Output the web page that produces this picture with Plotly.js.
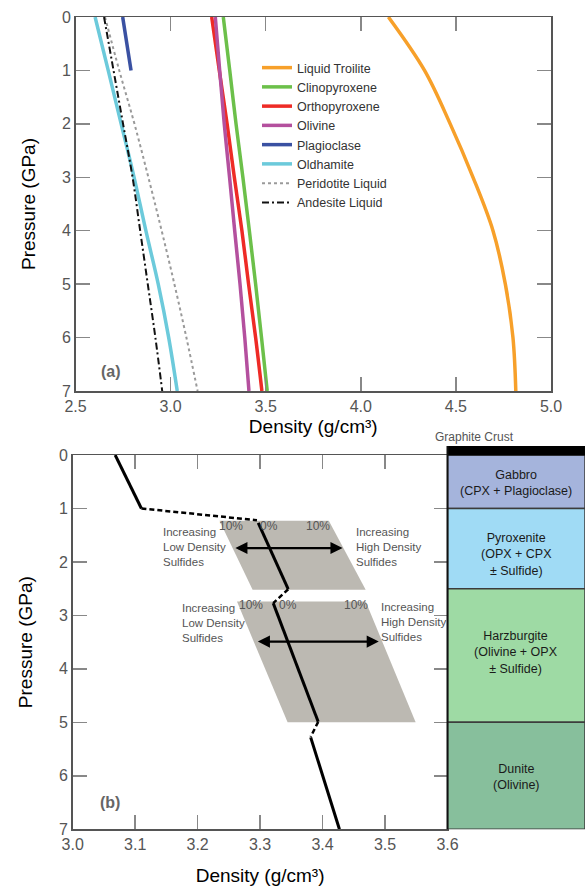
<!DOCTYPE html>
<html>
<head>
<meta charset="utf-8">
<script src="https://cdn.plot.ly/plotly-3.0.1.min.js"></script>
<style>html,body{margin:0;padding:0;background:#fff;}#chart{width:585px;height:888px;}</style>
</head>
<body>
<div id="chart"></div>
<script>
// ---------- Panel (a) data: density (g/cm3) at pressure (GPa) ----------
const pressureA = [0, 1, 2, 3, 4, 5, 6, 7];
const liquidTroilite = [4.145, 4.335, 4.47, 4.59, 4.695, 4.76, 4.80, 4.815];
const clinopyroxene = [3.277, 3.311, 3.344, 3.38, 3.414, 3.447, 3.478, 3.508];
const orthopyroxene = [3.216, 3.256, 3.297, 3.335, 3.375, 3.41, 3.447, 3.48];
const olivine = [3.235, 3.258, 3.282, 3.31, 3.337, 3.365, 3.39, 3.412];
const plagioclasePressure = [0, 1];
const plagioclase = [2.748, 2.792];
const oldhamite = [2.603, 2.672, 2.74, 2.808, 2.87, 2.935, 2.99, 3.035];
const peridotiteLiquid = [2.655, 2.73, 2.81, 2.883, 2.953, 3.02, 3.083, 3.142];
const andesiteLiquid = [2.65, 2.70, 2.75, 2.80, 2.84, 2.88, 2.92, 2.956];

// ---------- Panel (b) data ----------
// bulk density profile (solid parts, null = break)
const profileSolidX = [3.068, 3.11, null, 3.297, 3.345, null, 3.321, 3.393, null, 3.381, 3.427];
const profileSolidY = [0, 1.0, null, 1.27, 2.51, null, 2.77, 4.99, null, 5.28, 7];
// dashed connections
const profileDashX = [3.11, 3.295, null, 3.345, 3.321, null, 3.393, 3.381];
const profileDashY = [1.0, 1.22, null, 2.51, 2.77, null, 4.99, 5.27];
// sulfide envelopes (0-10 % sulfide)
const envUpperX = [3.235, 3.41, 3.469, 3.288, 3.235];
const envUpperY = [1.23, 1.23, 2.52, 2.52, 1.23];
const envLowerX = [3.263, 3.469, 3.549, 3.344, 3.263];
const envLowerY = [2.74, 2.74, 5.0, 5.0, 2.74];
// double arrows
const arrowUpper = {x0: 3.258, x1: 3.432, y: 1.74};
const arrowLower = {x0: 3.294, x1: 3.49, y: 3.49};
// percentage labels
const pctText = ["10%", "0%", "10%", "10%", "0%", "10%"];
const pctX = [3.254, 3.314, 3.392, 3.286, 3.344, 3.453];
const pctY = [1.33, 1.33, 1.33, 2.80, 2.80, 2.80];
// side labels
const sideText = ["Increasing<br>Low Density<br>Sulfides", "Increasing<br>High Density<br>Sulfides",
                  "Increasing<br>Low Density<br>Sulfides", "Increasing<br>High Density<br>Sulfides"];
const sideX = [3.142, 3.45, 3.172, 3.49];
const sideY = [1.72, 1.72, 3.14, 3.12];

// crust column layers
const layerNames = ["Gabbro<br>(CPX + Plagioclase)", "Pyroxenite<br>(OPX + CPX<br>± Sulfide)",
                    "Harzburgite<br>(Olivine + OPX<br>± Sulfide)", "Dunite<br>(Olivine)"];
const layerTop = [0, 1.0, 2.5, 5.0];
const layerBottom = [1.0, 2.5, 5.0, 7.0];
const layerLabelY = [0.52, 1.87, 3.69, 6.03];
const layerColors = ["#a5b4dc", "#a0dbf5", "#9edaa4", "#87bf9c"];

const W = 585, H = 888;
const px = v => v / W, py = v => 1 - v / H;
const FONT = 'Liberation Sans, Arial, sans-serif';

const lineA = (name, x, y, color, width, dash) => ({
  type: 'scatter', mode: 'lines', name: name, x: x, y: y, xaxis: 'x', yaxis: 'y',
  line: {color: color, width: width, dash: dash || 'solid', shape: 'spline', smoothing: 1}
});

const traces = [
  lineA('Liquid Troilite', liquidTroilite, pressureA, '#f7a02a', 3.5),
  lineA('Clinopyroxene', clinopyroxene, pressureA, '#6cc04a', 3.5),
  lineA('Orthopyroxene', orthopyroxene, pressureA, '#ee2b26', 3.5),
  lineA('Olivine', olivine, pressureA, '#b4509e', 3.5),
  lineA('Plagioclase', plagioclase, plagioclasePressure, '#3a51a2', 3.5),
  lineA('Oldhamite', oldhamite, pressureA, '#6ccadb', 3.5),
  lineA('Peridotite Liquid', peridotiteLiquid, pressureA, '#9a9a9a', 2, 'dot'),
  lineA('Andesite Liquid', andesiteLiquid, pressureA, '#111111', 2, '7px,3px,2px,3px'),
  // panel b
  {type: 'scatter', mode: 'lines', x: envUpperX, y: envUpperY, xaxis: 'x2', yaxis: 'y2',
   fill: 'toself', fillcolor: '#bcb9b2', line: {width: 0, color: '#bcb9b2'}, showlegend: false, hoverinfo: 'skip'},
  {type: 'scatter', mode: 'lines', x: envLowerX, y: envLowerY, xaxis: 'x2', yaxis: 'y2',
   fill: 'toself', fillcolor: '#bcb9b2', line: {width: 0, color: '#bcb9b2'}, showlegend: false, hoverinfo: 'skip'},
  {type: 'scatter', mode: 'lines', x: profileSolidX, y: profileSolidY, xaxis: 'x2', yaxis: 'y2',
   connectgaps: false, line: {color: '#000', width: 3}, showlegend: false},
  {type: 'scatter', mode: 'lines', x: profileDashX, y: profileDashY, xaxis: 'x2', yaxis: 'y2',
   connectgaps: false, line: {color: '#000', width: 2.5, dash: '5px,3px'}, showlegend: false},
  // crust column
  {type: 'bar', x: layerTop.map(() => 0), y: layerBottom.map((b, i) => b - layerTop[i]), base: layerTop,
   xaxis: 'x3', yaxis: 'y2', width: 1, showlegend: false,
   marker: {color: layerColors, line: {color: '#3c3c3c', width: 1.5}}, hoverinfo: 'skip'}
];

const annotations = [];
// arrows
[arrowUpper, arrowLower].forEach(a => annotations.push({
  xref: 'x2', yref: 'y2', axref: 'x2', ayref: 'y2', x: a.x1, y: a.y, ax: a.x0, ay: a.y,
  text: '', showarrow: true, arrowhead: 2, startarrowhead: 2, arrowside: 'end+start',
  arrowsize: 1.1, startarrowsize: 1.1, arrowwidth: 2.2, arrowcolor: '#000', standoff: 0, startstandoff: 0
}));
pctText.forEach((t, i) => annotations.push({
  xref: 'x2', yref: 'y2', x: pctX[i], y: pctY[i], text: t, showarrow: false,
  font: {family: FONT, size: 12, color: '#555'}
}));
sideText.forEach((t, i) => annotations.push({
  xref: 'x2', yref: 'y2', x: sideX[i], y: sideY[i], text: t, showarrow: false,
  xanchor: 'left', align: 'left',
  font: {family: FONT, size: 11.5, color: '#555'}
}));
layerNames.forEach((t, i) => annotations.push({
  xref: 'x3', yref: 'y2', x: 0, y: layerLabelY[i], text: t, showarrow: false,
  font: {family: FONT, size: 12.5, color: '#1a1a1a'}
}));
annotations.push({xref: 'paper', yref: 'paper', x: px(516), y: py(437), text: 'Graphite Crust',
  showarrow: false, font: {family: FONT, size: 12, color: '#555'}});
annotations.push({xref: 'x', yref: 'y', x: 2.684, y: 6.64, text: '<b>(a)</b>', showarrow: false,
  font: {family: FONT, size: 16, color: '#666'}});
annotations.push({xref: 'x2', yref: 'y2', x: 3.06, y: 6.5, text: '<b>(b)</b>', showarrow: false,
  font: {family: FONT, size: 16, color: '#666'}});

const tickFont = {family: FONT, size: 16, color: '#555'};
const titleFont = {family: FONT, size: 19, color: '#000'};
const axisCommon = {
  ticks: 'inside', ticklen: 14, tickwidth: 1.5, tickcolor: '#888',
  showline: true, linecolor: '#555', linewidth: 1.5, mirror: 'ticks',
  showgrid: false, zeroline: false, tickfont: tickFont, automargin: false
};

const layout = {
  width: W, height: H, margin: {l: 0, r: 0, t: 0, b: 0},
  paper_bgcolor: '#fff', plot_bgcolor: 'rgba(0,0,0,0)',
  font: {family: FONT},
  showlegend: true,
  legend: {x: px(257), y: py(53), xanchor: 'left', yanchor: 'top', bgcolor: 'rgba(0,0,0,0)',
           font: {family: FONT, size: 12.5, color: '#333'}},
  xaxis: Object.assign({}, axisCommon, {domain: [px(75.5), px(551)], anchor: 'y', range: [2.5, 5.0],
    dtick: 0.5, tick0: 2.5, tickformat: '.1f', title: {text: 'Density (g/cm³)', font: titleFont, standoff: 6}}),
  yaxis: Object.assign({}, axisCommon, {domain: [py(391), py(17)], anchor: 'x', range: [7, 0],
    dtick: 1, title: {text: 'Pressure (GPa)', font: titleFont, standoff: 21}}),
  xaxis2: Object.assign({}, axisCommon, {domain: [px(72.7), px(447.5)], anchor: 'y2', range: [3.0, 3.6],
    dtick: 0.1, tick0: 3.0, tickformat: '.1f', title: {text: 'Density (g/cm³)', font: titleFont, standoff: 16}}),
  yaxis2: Object.assign({}, axisCommon, {domain: [py(829.3), py(455)], anchor: 'x2', range: [7, 0],
    dtick: 1, title: {text: 'Pressure (GPa)', font: titleFont, standoff: 21}}),
  xaxis3: {domain: [px(447.5), 1], anchor: 'y2', range: [-0.5, 0.5], visible: false, fixedrange: true},
  shapes: [
    {type: 'rect', xref: 'paper', yref: 'paper', x0: px(447.5), x1: 1, y0: py(455.5), y1: py(446),
     fillcolor: '#000', line: {width: 0}},
    {type: 'line', xref: 'paper', yref: 'paper', x0: px(447.5), x1: px(447.5), y0: py(829.3), y1: py(446),
     line: {color: '#111', width: 2}}
  ],
  annotations: annotations
};

Plotly.newPlot('chart', traces, layout, {staticPlot: true, displayModeBar: false});
</script>
</body>
</html>
